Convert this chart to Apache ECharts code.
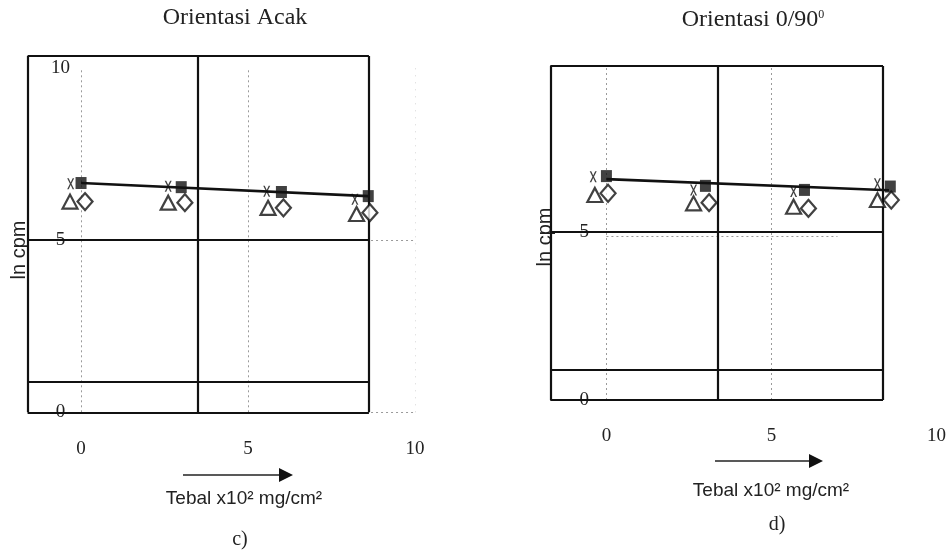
<!DOCTYPE html>
<html>
<head>
<meta charset="utf-8">
<script src="https://cdn.jsdelivr.net/npm/echarts@6/dist/echarts.min.js"></script>
<style>
  html, body { margin: 0; padding: 0; background: #fff; }
  #chart { width: 949px; height: 553px; }
</style>
</head>
<body>
<div id="chart"></div>
<script>
// tick labels
const xTicks = [0, 5, 10];
const yTicks = [0, 5, 10];

// panel c) Orientasi Acak
const squareXC = [0, 3, 6, 8.6];
const squareYC = [6.66, 6.54, 6.40, 6.28];
const crossXC = [-0.31, 2.61, 5.56, 8.2];
const crossYC = [6.64, 6.57, 6.42, 6.19];
const triXC = [-0.33, 2.61, 5.6, 8.25];
const triYC = [6.12, 6.09, 5.94, 5.76];
const diaXC = [0.12, 3.11, 6.06, 8.65];
const diaYC = [6.12, 6.09, 5.94, 5.80];
const fitXC = [0, 8.6];
const fitYC = [6.66, 6.28];

// panel d) Orientasi 0/90
const squareXD = [0, 3, 6, 8.6];
const squareYD = [6.65, 6.36, 6.24, 6.34];
const crossXD = [-0.4, 2.64, 5.67, 8.21];
const crossYD = [6.63, 6.24, 6.19, 6.42];
const triXD = [-0.35, 2.64, 5.67, 8.21];
const triYD = [6.09, 5.84, 5.74, 5.94];
const diaXD = [0.05, 3.11, 6.12, 8.63];
const diaYD = [6.14, 5.86, 5.69, 5.94];
const fitXD = [0, 8.56];
const fitYD = [6.56, 6.23];

const zip = (xs, ys) => xs.map((x, i) => [x, ys[i]]);

const numFont = "'Liberation Serif', serif";
const crossPath = "path://M0,0L2.2,0L5,5.4L7.8,0L10,0L6.1,7L10,14L7.8,14L5,8.6L2.2,14L0,14L3.9,7Z";

// the black frame of the scanned table, plus the faint dotted grid
function frameLines(xs, ys, gx, gy, gh, faint) {
  const black = { color: "#111", width: 2.2, type: "solid" };
  const dot = { color: "#9a9a9a", width: 1, type: [2, 3] };
  const pale = { color: "#d6d6d6", width: 1, type: [1, 6] };
  const out = [];
  const x0 = xs[0], x1 = xs[xs.length - 1];
  const y0 = ys[0], y1 = ys[ys.length - 1];
  gx.forEach(v => out.push([{ coord: [v, gy[0]], lineStyle: dot }, { coord: [v, gy[1]] }]));
  faint.forEach(v => out.push([{ coord: [v, gy[0]], lineStyle: pale }, { coord: [v, gy[1]] }]));
  gh.forEach(h => out.push([{ coord: [h[1], h[0]], lineStyle: dot }, { coord: [h[2], h[0]] }]));
  xs.forEach(v => out.push([{ coord: [v, y0], lineStyle: black }, { coord: [v, y1] }]));
  ys.forEach(v => out.push([{ coord: [x0, v], lineStyle: black }, { coord: [x1, v] }]));
  return out;
}

function panel(idx, sq, cr, tr, di, fit, frame) {
  return [
    {
      type: "line", xAxisIndex: idx, yAxisIndex: idx, data: fit,
      symbol: "none", lineStyle: { color: "#111", width: 2.6 }, z: 3,
      markLine: {
        silent: true, symbol: "none", label: { show: false },
        data: frame, z: 1
      }
    },
    {
      type: "scatter", xAxisIndex: idx, yAxisIndex: idx, data: cr,
      symbol: crossPath, symbolSize: [7, 11], itemStyle: { color: "#111" }, z: 4
    },
    {
      type: "scatter", xAxisIndex: idx, yAxisIndex: idx, data: tr,
      symbol: "triangle", symbolSize: [15, 14],
      itemStyle: { color: "#fff", borderColor: "#111", borderWidth: 2.2 }, z: 4
    },
    {
      type: "scatter", xAxisIndex: idx, yAxisIndex: idx, data: di,
      symbol: "diamond", symbolSize: [15, 17],
      itemStyle: { color: "#fff", borderColor: "#111", borderWidth: 2.2 }, z: 4
    },
    {
      type: "scatter", xAxisIndex: idx, yAxisIndex: idx, data: sq,
      symbol: "rect", symbolSize: [11, 12], itemStyle: { color: "#111" }, z: 5
    }
  ];
}

function xAxisOf(idx, min, margin) {
  return {
    type: "value", gridIndex: idx, min: min, max: 10,
    axisLine: { show: false }, axisTick: { show: false }, splitLine: { show: false },
    axisLabel: { customValues: xTicks, margin: margin, fontFamily: numFont, fontSize: 19, color: "#222" }
  };
}
function yAxisOf(idx, max, margin) {
  return {
    type: "value", gridIndex: idx, min: 0, max: max,
    axisLine: { show: false }, axisTick: { show: false }, splitLine: { show: false },
    axisLabel: { customValues: yTicks, inside: true, align: "center", margin: margin,
      fontFamily: numFont, fontSize: 19, color: "#222" }
  };
}

function arrow(x1, x2, y) {
  return [
    { type: "line", shape: { x1: x1, y1: y, x2: x2 - 12, y2: y }, style: { stroke: "#222", lineWidth: 1.5 } },
    { type: "polygon", shape: { points: [[x2 - 14, y - 7], [x2, y], [x2 - 14, y + 7]] }, style: { fill: "#111" } }
  ];
}
function label(text, x, y, font, rot, rich) {
  return {
    type: "text", x: x, y: y, rotation: rot || 0,
    style: { text: text, font: font, fill: "#222", align: "center", verticalAlign: "middle", rich: rich }
  };
}

const serif = "24px 'Liberation Serif', serif";
const sans = "19px 'Liberation Sans', Arial, sans-serif";
const supRich = { s: { fontSize: 12, fontFamily: "'Liberation Serif', serif", padding: [0, 0, 10, 0], fill: "#222" } };

const chart = echarts.init(document.getElementById("chart"));
chart.setOption({
  animation: false,
  grid: [
    { left: 27.6, top: 56, width: 387.4, height: 356.3 },
    { left: 550.3, top: 66, width: 388.4, height: 334 }
  ],
  xAxis: [xAxisOf(0, -1.6, 27), xAxisOf(1, -1.7, 27)],
  yAxis: [yAxisOf(0, 10.35, 33), yAxisOf(1, 9.92, 34)],
  series: [].concat(
    panel(0, zip(squareXC, squareYC), zip(crossXC, crossYC), zip(triXC, triYC),
      zip(diaXC, diaYC), zip(fitXC, fitYC),
      frameLines([-1.6, 3.5, 8.62], [0, 0.9, 5, 10.35], [0, 5], [0, 10],
        [[5, 0, 10], [0, 0, 10]], [10])),
    panel(1, zip(squareXD, squareYD), zip(crossXD, crossYD), zip(triXD, triYD),
      zip(diaXD, diaYD), zip(fitXD, fitYD),
      frameLines([-1.7, 3.36, 8.38], [0, 0.91, 5, 9.92], [0, 5], [0, 9.9],
        [[4.85, 0, 7]], []))
  ),
  graphic: [].concat(
    [
      label("Orientasi Acak", 235, 18, serif),
      label("Orientasi 0/90{s|0}", 753, 20, serif, 0, supRich),
      label("ln cpm", 19, 250, "20px 'Liberation Sans', Arial, sans-serif", Math.PI / 2),
      label("ln cpm", 545, 237, "20px 'Liberation Sans', Arial, sans-serif", Math.PI / 2),
      label("Tebal x10\u00b2 mg/cm\u00b2", 244, 499, sans),
      label("Tebal x10\u00b2 mg/cm\u00b2", 771, 491, sans),
      label("c)", 240, 540, "20px 'Liberation Serif', serif"),
      label("d)", 777, 525, "20px 'Liberation Serif', serif")
    ],
    arrow(183, 293, 475),
    arrow(715, 823, 461)
  )
});
</script>
</body>
</html>
